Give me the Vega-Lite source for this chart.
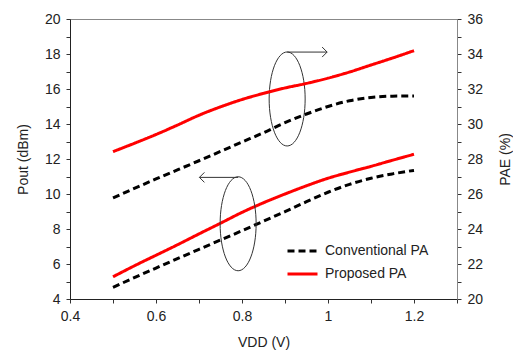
{
  "$schema": "https://vega.github.io/schema/vega-lite/v6.json",
  "width": 387,
  "height": 280,
  "autosize": {"type": "none"},
  "padding": {"left": 70, "top": 19, "right": 56, "bottom": 52},
  "background": "white",
  "config": {
    "font": "Liberation Sans",
    "view": {"stroke": "#888888", "strokeWidth": 1},
    "axis": {
      "labelFont": "Liberation Sans",
      "titleFont": "Liberation Sans",
      "labelFontSize": 14,
      "titleFontSize": 14,
      "titleFontWeight": "normal",
      "labelColor": "#222222",
      "titleColor": "#222222",
      "labelOverlap": false,
      "grid": false,
      "tickSize": 4,
      "tickColor": "#333333",
      "domainColor": "#222222"
    },
    "legend": {
      "labelFont": "Liberation Sans",
      "labelFontSize": 14,
      "labelColor": "#222222"
    }
  },
  "datasets": {
    "curves": [
      {"vdd": 0.5, "series": "Conventional PA", "pout": 4.67, "pae": 25.78},
      {"vdd": 0.6, "series": "Conventional PA", "pout": 5.77, "pae": 26.86},
      {"vdd": 0.7, "series": "Conventional PA", "pout": 6.84, "pae": 27.9},
      {"vdd": 0.8, "series": "Conventional PA", "pout": 7.9, "pae": 28.97},
      {"vdd": 0.85, "series": "Conventional PA", "pout": 8.45, "pae": 29.5},
      {"vdd": 0.9, "series": "Conventional PA", "pout": 8.99, "pae": 30.08},
      {"vdd": 0.95, "series": "Conventional PA", "pout": 9.56, "pae": 30.57},
      {"vdd": 1.0, "series": "Conventional PA", "pout": 10.1, "pae": 31.0},
      {"vdd": 1.05, "series": "Conventional PA", "pout": 10.55, "pae": 31.33},
      {"vdd": 1.1, "series": "Conventional PA", "pout": 10.9, "pae": 31.52},
      {"vdd": 1.15, "series": "Conventional PA", "pout": 11.15, "pae": 31.59},
      {"vdd": 1.2, "series": "Conventional PA", "pout": 11.35, "pae": 31.6},
      {"vdd": 0.5, "series": "Proposed PA", "pout": 5.27, "pae": 28.42},
      {"vdd": 0.55, "series": "Proposed PA", "pout": 5.9, "pae": 28.9},
      {"vdd": 0.6, "series": "Proposed PA", "pout": 6.5, "pae": 29.4},
      {"vdd": 0.65, "series": "Proposed PA", "pout": 7.1, "pae": 29.94},
      {"vdd": 0.7, "series": "Proposed PA", "pout": 7.72, "pae": 30.5},
      {"vdd": 0.75, "series": "Proposed PA", "pout": 8.33, "pae": 30.98},
      {"vdd": 0.8, "series": "Proposed PA", "pout": 8.95, "pae": 31.4},
      {"vdd": 0.85, "series": "Proposed PA", "pout": 9.5, "pae": 31.75},
      {"vdd": 0.9, "series": "Proposed PA", "pout": 10.0, "pae": 32.06},
      {"vdd": 0.95, "series": "Proposed PA", "pout": 10.47, "pae": 32.32},
      {"vdd": 1.0, "series": "Proposed PA", "pout": 10.9, "pae": 32.62},
      {"vdd": 1.05, "series": "Proposed PA", "pout": 11.25, "pae": 32.97},
      {"vdd": 1.1, "series": "Proposed PA", "pout": 11.58, "pae": 33.37},
      {"vdd": 1.15, "series": "Proposed PA", "pout": 11.93, "pae": 33.77},
      {"vdd": 1.2, "series": "Proposed PA", "pout": 12.27, "pae": 34.19}
    ],
    "ellipses": [
      {"cx": 0.905, "cy": 15.43},
      {"cx": 0.791, "cy": 8.3}
    ],
    "arrows": [
      {"x1": 0.905, "x2": 0.998, "y": 18.11, "dir": "right"},
      {"x1": 0.791, "x2": 0.701, "y": 10.95, "dir": "left"}
    ]
  },
  "encoding": {
    "x": {
      "type": "quantitative",
      "scale": {"domain": [0.4, 1.3], "nice": false, "zero": false},
      "axis": {
        "title": "VDD (V)",
        "values": [0.4, 0.5, 0.6, 0.7, 0.8, 0.9, 1.0, 1.1, 1.2, 1.3],
        "labelExpr": "round(datum.value*10) % 2 == 0 && datum.value < 1.25 ? format(datum.value, '~g') : ''",
        "labelPadding": 6,
        "titlePadding": 12,
        "labelFlush": false,
        "labelOverlap": false
      }
    }
  },
  "layer": [
    {
      "encoding": {
        "y": {
          "type": "quantitative",
          "scale": {"domain": [4, 20], "nice": false, "zero": false},
          "axis": {
            "title": "Pout (dBm)",
            "orient": "left",
            "values": [4,5,6,7,8,9,10,11,12,13,14,15,16,17,18,19,20],
            "labelExpr": "round(datum.value) % 2 == 0 ? format(datum.value, 'd') : ''",
            "labelOverlap": false,
            "labelPadding": 6,
            "titlePadding": 14
          }
        }
      },
      "layer": [
        {
          "data": {"name": "curves"},
          "mark": {"type": "line", "strokeWidth": 3, "interpolate": "monotone"},
          "encoding": {
            "x": {"field": "vdd", "type": "quantitative"},
            "y": {"field": "pout", "type": "quantitative"},
            "color": {
              "field": "series",
              "type": "nominal",
              "scale": {"domain": ["Conventional PA", "Proposed PA"], "range": ["#000000", "#ff0000"]},
              "legend": {
                "title": null,
                "orient": "none",
                "legendX": 216,
                "legendY": 222,
                "symbolType": "stroke",
                "symbolSize": 900,
                "symbolStrokeWidth": 3,
                "labelOffset": 6,
                "clipHeight": 20,
                "rowPadding": 3
              }
            },
            "strokeDash": {
              "field": "series",
              "type": "nominal",
              "scale": {"domain": ["Conventional PA", "Proposed PA"], "range": [[7, 4], [1, 0]]},
              "legend": {
                "title": null,
                "orient": "none",
                "legendX": 216,
                "legendY": 222,
                "symbolType": "stroke",
                "symbolSize": 900,
                "symbolStrokeWidth": 3,
                "labelOffset": 6,
                "clipHeight": 20,
                "rowPadding": 3
              }
            }
          }
        },
        {
          "data": {"name": "ellipses"},
          "mark": {
            "type": "point",
            "shape": "M0,-1A0.383,1 0 1,1 0,1A0.383,1 0 1,1 0,-1Z",
            "size": 8836,
            "filled": false,
            "stroke": "#333333",
            "strokeWidth": 1,
            "opacity": 1
          },
          "encoding": {
            "x": {"field": "cx", "type": "quantitative"},
            "y": {"field": "cy", "type": "quantitative"}
          }
        },
        {
          "data": {"name": "arrows"},
          "mark": {"type": "rule", "stroke": "#333333", "strokeWidth": 1},
          "encoding": {
            "x": {"field": "x1", "type": "quantitative"},
            "x2": {"field": "x2"},
            "y": {"field": "y", "type": "quantitative"}
          }
        },
        {
          "data": {"name": "arrows"},
          "transform": [{"filter": "datum.dir == 'right'"}],
          "mark": {
            "type": "point",
            "shape": "M-1,-1L0,0L-1,1",
            "size": 100,
            "filled": false,
            "stroke": "#333333",
            "strokeWidth": 1,
            "opacity": 1
          },
          "encoding": {
            "x": {"field": "x2", "type": "quantitative"},
            "y": {"field": "y", "type": "quantitative"}
          }
        },
        {
          "data": {"name": "arrows"},
          "transform": [{"filter": "datum.dir == 'left'"}],
          "mark": {
            "type": "point",
            "shape": "M1,-1L0,0L1,1",
            "size": 100,
            "filled": false,
            "stroke": "#333333",
            "strokeWidth": 1,
            "opacity": 1
          },
          "encoding": {
            "x": {"field": "x2", "type": "quantitative"},
            "y": {"field": "y", "type": "quantitative"}
          }
        }
      ]
    },
    {
      "data": {"name": "curves"},
      "mark": {"type": "line", "strokeWidth": 3, "interpolate": "monotone"},
      "encoding": {
        "x": {"field": "vdd", "type": "quantitative"},
        "y": {
          "field": "pae",
          "type": "quantitative",
          "scale": {"domain": [20, 36], "nice": false, "zero": false},
          "axis": {
            "title": "PAE (%)",
            "orient": "right",
            "values": [20,21,22,23,24,25,26,27,28,29,30,31,32,33,34,35,36],
            "labelExpr": "datum.value % 2 == 0 ? datum.label : ''",
            "labelOverlap": false,
            "labelPadding": 6,
            "titlePadding": 30,
            "titleAngle": 270,
            "domainColor": "#888888"
          }
        },
        "color": {"field": "series", "type": "nominal"},
        "strokeDash": {"field": "series", "type": "nominal"}
      }
    }
  ],
  "resolve": {"scale": {"y": "independent"}}
}
